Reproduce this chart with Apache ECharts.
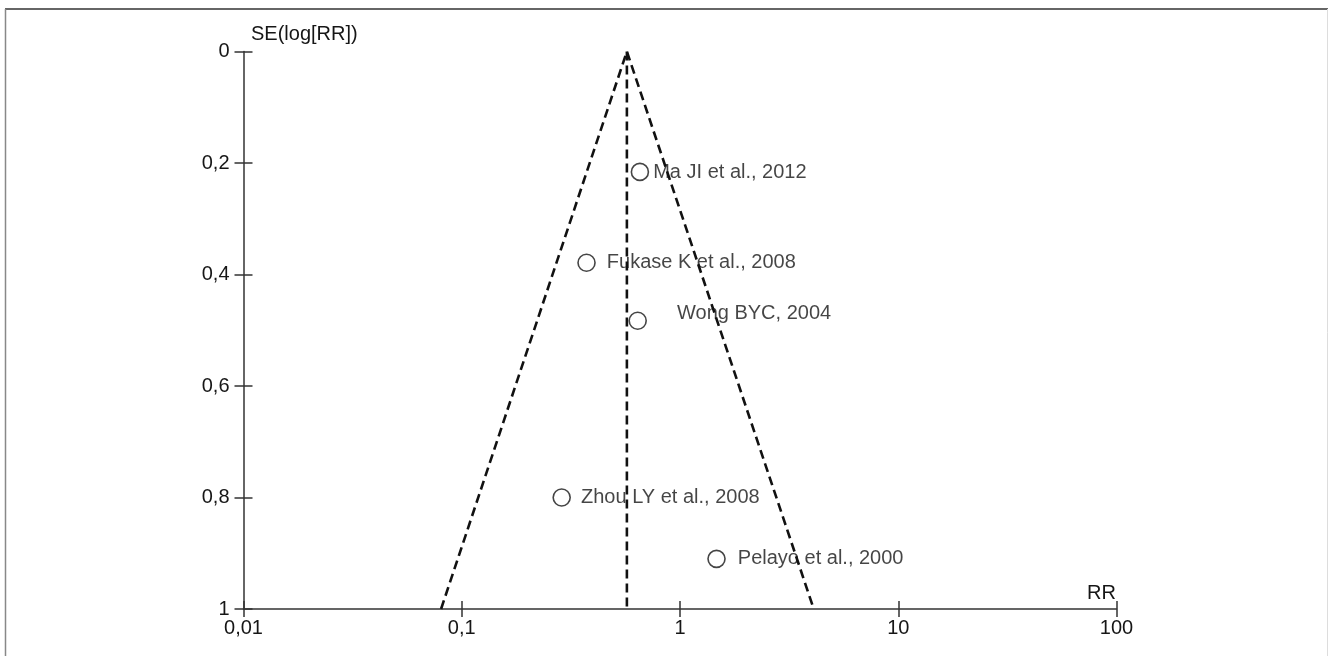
<!DOCTYPE html>
<html>
<head>
<meta charset="utf-8">
<script src="https://cdn.jsdelivr.net/npm/echarts@6/dist/echarts.min.js"></script>
<style>
html,body{margin:0;padding:0;background:#fff;}
#chart{width:1328px;height:656px;}
</style>
</head>
<body>
<div id="chart"></div>
<script>
// ---- data ----
const studies = ['Ma JI et al., 2012', 'Fukase K et al., 2008', 'Wong BYC, 2004', 'Zhou LY et al., 2008', 'Pelayo et al., 2000'];
const studyRR = [0.655, 0.373, 0.640, 0.287, 1.47];
const studySE = [0.216, 0.379, 0.483, 0.800, 0.910];
const pooledRR = 0.571;
const funnelLowerRR = 0.0804;   // at SE = 1
const funnelUpperRR = 4.10;     // at SE = 1
const seRange = [0, 1];
const xTickLabels = ['0,01', '0,1', '1', '10', '100'];
const yTickLabels = ['0', '0,2', '0,4', '0,6', '0,8', '1'];
const xAxisName = 'RR';
const yAxisName = 'SE(log[RR])';

// ---- style ----
const FONT = '"Liberation Sans", Arial, sans-serif';
const FS = 20;
const TXT = '#161616';
const labelGap = [4, 11, 30, 10, 12];
const labelShift = [[0, 1], [0, 0], [0, -7], [0, 0], [0, 0]];

const chart = echarts.init(document.getElementById('chart'));

const xLabelFmt = v => xTickLabels[Math.round(Math.log10(v)) + 2] || '';
const yLabelFmt = v => yTickLabels[Math.round(v * 5)] || '';

const dashStyle = { color: '#111', width: 2.6, type: [9, 5] };
const axisColor = '#333';

const pointData = studies.map((s, i) => ({
  value: [studyRR[i], studySE[i]],
  name: s,
  label: { distance: labelGap[i], offset: labelShift[i] }
}));

const baseX = {
  type: 'log', logBase: 10, min: 0.01, max: 100, gridIndex: 0, position: 'bottom',
  splitLine: { show: false }, minorTick: { show: false }
};
const baseY = {
  type: 'value', inverse: true, min: seRange[0], max: seRange[1], interval: 0.2, gridIndex: 0,
  position: 'left', splitLine: { show: false }
};

chart.setOption({
  animation: false,
  backgroundColor: '#fff',
  grid: { left: 243.5, right: 211.5, top: 51.5, bottom: 47, containLabel: false },
  xAxis: [
    Object.assign({}, baseX, {
      axisLine: { show: true, onZero: false, lineStyle: { color: axisColor, width: 1.5 } },
      axisTick: { show: true, inside: false, length: 8, lineStyle: { color: axisColor, width: 1.5 } },
      axisLabel: { show: true, formatter: xLabelFmt, color: TXT, fontFamily: FONT, fontSize: FS, margin: 9 }
    }),
    Object.assign({}, baseX, {
      axisLine: { show: false, onZero: false },
      axisTick: { show: true, inside: true, length: 8, lineStyle: { color: axisColor, width: 1.5 } },
      axisLabel: { show: false }
    })
  ],
  yAxis: [
    Object.assign({}, baseY, {
      axisLine: { show: true, onZero: false, lineStyle: { color: axisColor, width: 1.5 } },
      axisTick: { show: true, inside: false, length: 9, lineStyle: { color: axisColor, width: 1.5 } },
      axisLabel: { show: true, formatter: yLabelFmt, color: TXT, fontFamily: FONT, fontSize: FS, margin: 14 }
    }),
    Object.assign({}, baseY, {
      axisLine: { show: false, onZero: false },
      axisTick: { show: true, inside: true, length: 9, lineStyle: { color: axisColor, width: 1.5 } },
      axisLabel: { show: false }
    })
  ],
  series: [
    {
      type: 'line', xAxisIndex: 0, yAxisIndex: 0, symbol: 'none', silent: true,
      lineStyle: dashStyle,
      data: [[funnelLowerRR, seRange[1]], [pooledRR, seRange[0]], [funnelUpperRR, seRange[1]]]
    },
    {
      type: 'line', xAxisIndex: 0, yAxisIndex: 0, symbol: 'none', silent: true,
      lineStyle: dashStyle,
      data: [[pooledRR, seRange[0]], [pooledRR, seRange[1]]]
    },
    {
      type: 'scatter', xAxisIndex: 0, yAxisIndex: 0,
      symbol: 'circle', symbolSize: 17,
      itemStyle: { color: '#fff', borderColor: '#161616', borderWidth: 1.6 },
      label: {
        show: true, position: 'right', formatter: p => p.name,
        color: TXT, fontFamily: FONT, fontSize: FS
      },
      data: pointData
    }
  ],
  graphic: [
    { type: 'line', shape: { x1: 5, y1: 9, x2: 1328, y2: 9 }, style: { stroke: '#666', lineWidth: 2 } },
    { type: 'line', shape: { x1: 5.5, y1: 9, x2: 5.5, y2: 656 }, style: { stroke: '#888', lineWidth: 1.5 } },
    { type: 'line', shape: { x1: 1327.5, y1: 9, x2: 1327.5, y2: 656 }, style: { stroke: '#ddd', lineWidth: 1 } },
    { type: 'text', left: 251, top: 24, style: { text: yAxisName, fill: TXT, font: FS + 'px ' + FONT } },
    { type: 'text', left: 1087, top: 583, style: { text: xAxisName, fill: TXT, font: FS + 'px ' + FONT } }
  ]
});
</script>
</body>
</html>
